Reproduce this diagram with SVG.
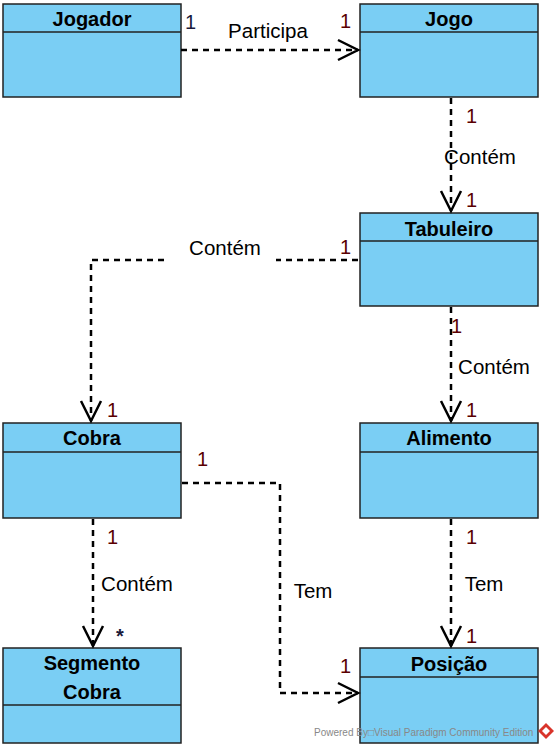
<svg xmlns="http://www.w3.org/2000/svg" width="558" height="749" viewBox="0 0 558 749">
<style>
.box{fill:#7acef4;stroke:#222;stroke-width:1.5}
.div{stroke:#222;stroke-width:1.5}
.name{font-family:"Liberation Sans",Arial,sans-serif;font-weight:bold;font-size:20px;fill:#000;text-anchor:middle}
.lbl{font-family:"Liberation Sans",Arial,sans-serif;font-size:20.5px;fill:#000;text-anchor:middle}
.m{font-family:"Liberation Sans",Arial,sans-serif;font-size:20px;fill:#5a0000}
.dash{fill:none;stroke:#000;stroke-width:2.5;stroke-dasharray:6,5}
.ah{fill:none;stroke:#000;stroke-width:2.5}
.wm{font-family:"Liberation Sans",Arial,sans-serif;font-size:10px;fill:#888}
</style>
<rect width="558" height="749" fill="#fff"/>
<g id="Jogador"><rect class="box" x="3" y="4" width="178" height="93"/><line class="div" x1="3" y1="32" x2="181" y2="32"/><text class="name" x="92" y="26">Jogador</text></g>
<g id="Jogo"><rect class="box" x="360" y="4" width="178" height="93"/><line class="div" x1="360" y1="32" x2="538" y2="32"/><text class="name" x="449" y="26">Jogo</text></g>
<g id="Tabuleiro"><rect class="box" x="360" y="213" width="178" height="93"/><line class="div" x1="360" y1="241" x2="538" y2="241"/><text class="name" x="449" y="236">Tabuleiro</text></g>
<g id="Cobra"><rect class="box" x="3" y="423" width="178" height="95"/><line class="div" x1="3" y1="452" x2="181" y2="452"/><text class="name" x="92" y="445">Cobra</text></g>
<g id="Alimento"><rect class="box" x="360" y="423" width="178" height="95"/><line class="div" x1="360" y1="452" x2="538" y2="452"/><text class="name" x="449" y="445">Alimento</text></g>
<g id="SegmentoCobra"><rect class="box" x="3" y="648" width="178" height="95"/><line class="div" x1="3" y1="705" x2="181" y2="705"/><text class="name" x="92" y="670">Segmento</text><text class="name" x="92" y="699">Cobra</text></g>
<g id="Posicao"><rect class="box" x="360" y="648" width="178" height="95"/><line class="div" x1="360" y1="677" x2="538" y2="677"/><text class="name" x="449" y="671">Posição</text></g>
<g id="connectors">
<path class="dash" d="M181 50H358"/><path class="ah" d="M338 40L358 50L338 60"/>
<text class="lbl" x="268" y="38">Participa</text><text class="m" x="185" y="29" style="fill:#1a1a3a">1</text><text class="m" x="340" y="28">1</text>
<path class="dash" d="M451 98V211"/><path class="ah" d="M441 191L451 211L461 191"/>
<text class="m" x="466" y="123">1</text><text class="lbl" x="480" y="164">Contém</text><text class="m" x="466" y="207">1</text>
<path class="dash" d="M358 260H276M164 260H91V421"/><path class="ah" d="M81 401L91 421L101 401"/>
<text class="lbl" x="225" y="255">Contém</text><text class="m" x="340" y="254">1</text><text class="m" x="107" y="417">1</text>
<path class="dash" d="M451 307V421"/><path class="ah" d="M441 401L451 421L461 401"/>
<text class="m" x="451" y="333">1</text><text class="lbl" x="494" y="374">Contém</text><text class="m" x="466" y="417">1</text>
<path class="dash" d="M93 519V646"/><path class="ah" d="M83 626L93 646L103 626"/>
<text class="m" x="107" y="544">1</text><text class="lbl" x="137" y="591">Contém</text><text x="116" y="643" style="font-family:'Liberation Sans',Arial,sans-serif;font-size:20px;font-weight:bold;fill:#1a1a3a">*</text>
<path class="dash" d="M182 483H280V693H358"/><path class="ah" d="M338 683L358 693L338 703"/>
<text class="lbl" x="313" y="598">Tem</text><text class="m" x="197" y="466">1</text><text class="m" x="340" y="673">1</text>
<path class="dash" d="M451 519V646"/><path class="ah" d="M441 626L451 646L461 626"/>
<text class="m" x="466" y="544">1</text><text class="lbl" x="484" y="591">Tem</text><text class="m" x="466" y="643">1</text>
</g>
<text class="wm" x="314" y="736">Powered By□Visual Paradigm Community Edition</text>
<path d="M546 723L554 731L546 739L538 731Z" fill="#d9342b"/>
<path d="M546 727L550 731L546 735L542 731Z" fill="#fff"/>
</svg>
